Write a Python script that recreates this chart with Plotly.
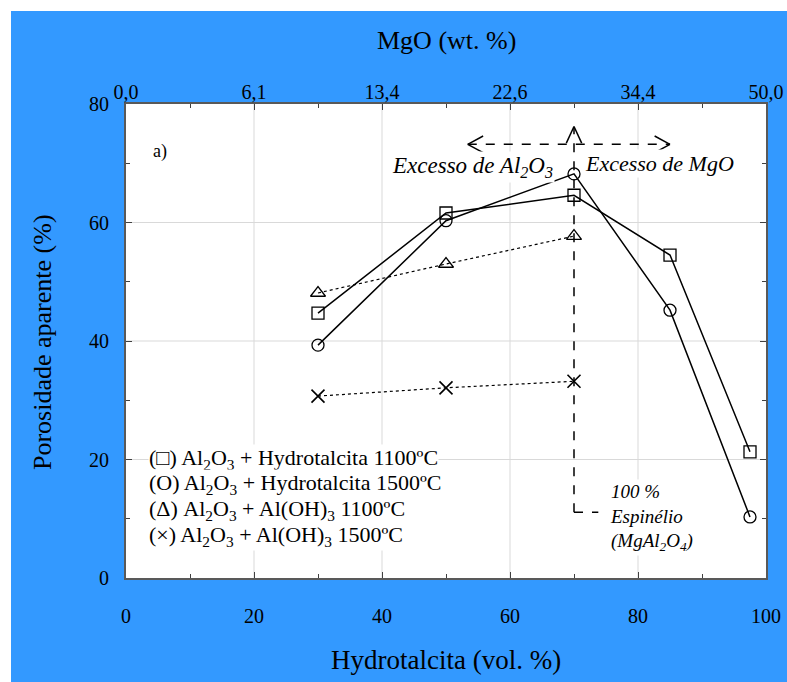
import plotly.graph_objects as go

# Data
x_hydro = [30, 50, 70, 85, 97.5]
por_ht_1100 = [44.7, 61.6, 64.6, 54.5, 21.3]
por_ht_1500 = [39.3, 60.3, 68.2, 45.2, 10.3]
x_aloh = [30, 50, 70]
por_aloh_1100 = [48.1, 53.0, 57.7]
por_aloh_1500 = [30.7, 32.1, 33.2]

x_ticks = [0, 20, 40, 60, 80, 100]
mgo_ticklabels = ["0,0", "6,1", "13,4", "22,6", "34,4", "50,0"]
y_ticks = [0, 20, 40, 60, 80]

FONT = "Liberation Serif, Times New Roman, serif"
BLUE = "#3399FF"

fig = go.Figure()

mk_line = dict(color="black", width=1.3)
fig.add_trace(go.Scatter(x=x_hydro, y=por_ht_1100, mode="lines+markers",
                         line=dict(color="black", width=1.5),
                         marker=dict(symbol="square-open", size=12, color="black", line=mk_line),
                         showlegend=False))
fig.add_trace(go.Scatter(x=x_hydro, y=por_ht_1500, mode="lines+markers",
                         line=dict(color="black", width=1.5),
                         marker=dict(symbol="circle-open", size=12, color="black", line=mk_line),
                         showlegend=False))
fig.add_trace(go.Scatter(x=x_aloh, y=por_aloh_1100, mode="lines+markers",
                         line=dict(color="black", width=1.2, dash="dot"),
                         marker=dict(symbol="triangle-up-open", size=13, color="black", line=mk_line),
                         showlegend=False))
fig.add_trace(go.Scatter(x=x_aloh, y=por_aloh_1500, mode="lines+markers",
                         line=dict(color="black", width=1.2, dash="dot"),
                         marker=dict(symbol="x-thin-open", size=13, color="black", line=dict(color="black", width=1.6)),
                         showlegend=False))
# invisible trace to activate top axis
fig.add_trace(go.Scatter(x=[0, 100], y=[0, 0], xaxis="x2", mode="markers",
                         marker=dict(opacity=0), showlegend=False, hoverinfo="skip"))

shapes = []
# white strips in the margins (top and left)
shapes.append(dict(type="rect", xref="paper", yref="paper", x0=-0.25, x1=1.2,
                   y0=(578 - 11) / 474, y1=1.3, fillcolor="white", line=dict(width=0), layer="below"))
shapes.append(dict(type="rect", xref="paper", yref="paper", x0=-0.25, x1=(11 - 126) / 640,
                   y0=-0.3, y1=1.3, fillcolor="white", line=dict(width=0), layer="below"))

# light grid lines at major ticks
for gx in [20, 40, 60, 80]:
    shapes.append(dict(type="line", x0=gx, x1=gx, y0=0, y1=80, line=dict(color="#d9d9d9", width=1), layer="below"))
for gy in [20, 40, 60]:
    shapes.append(dict(type="line", x0=0, x1=100, y0=gy, y1=gy, line=dict(color="#d9d9d9", width=1), layer="below"))

dash = dict(color="black", width=1.5, dash="dash")
solid = dict(color="black", width=1.5)
# vertical dashed line at stoichiometric spinel and horizontal arrows
shapes.append(dict(type="line", x0=70, x1=70, y0=11.1, y1=76.0, line=dash))
shapes.append(dict(type="line", x0=70, x1=73.8, y0=11.1, y1=11.1, line=dash))
shapes.append(dict(type="line", x0=53.4, x1=85.0, y0=73.2, y1=73.2, line=dash))
# chevron heads
shapes.append(dict(type="line", x0=53.4, x1=55.8, y0=73.2, y1=74.6, line=solid))
shapes.append(dict(type="line", x0=53.4, x1=55.8, y0=73.2, y1=71.8, line=solid))
shapes.append(dict(type="line", x0=85.0, x1=82.6, y0=73.2, y1=74.6, line=solid))
shapes.append(dict(type="line", x0=85.0, x1=82.6, y0=73.2, y1=71.8, line=solid))
shapes.append(dict(type="line", x0=70, x1=68.8, y0=76.2, y1=73.4, line=solid))
shapes.append(dict(type="line", x0=70, x1=71.2, y0=76.2, y1=73.4, line=solid))

annotations = []
# axis titles
annotations.append(dict(text="Hydrotalcita (vol. %)", xref="paper", yref="paper",
                        x=0.5, y=(578 - 660) / 474, xanchor="center", yanchor="middle", showarrow=False,
                        font=dict(family=FONT, size=27, color="black")))
annotations.append(dict(text="MgO (wt. %)", xref="paper", yref="paper",
                        x=0.5, y=(578 - 40) / 474, xanchor="center", yanchor="middle", showarrow=False,
                        font=dict(family=FONT, size=26, color="black")))
annotations.append(dict(text="Porosidade aparente (%)", xref="paper", yref="paper",
                        x=(42 - 126) / 640, y=(578 - 342) / 474, textangle=-90,
                        xanchor="center", yanchor="middle", showarrow=False,
                        font=dict(family=FONT, size=26, color="black")))
# panel label
annotations.append(dict(text="a)", x=5.3, y=71.9, showarrow=False,
                        font=dict(family=FONT, size=18, color="black")))
annotations.append(dict(text="<i>Excesso de Al<sub>2</sub>O<sub>3</sub></i>", x=54.2, y=69.3,
                        showarrow=False, bgcolor="white",
                        font=dict(family=FONT, size=23, color="black")))
annotations.append(dict(text="<i>Excesso de MgO</i>", x=83.4, y=69.9, showarrow=False,
                        bgcolor="white", font=dict(family=FONT, size=22, color="black")))
annotations.append(dict(text="<i>100 %<br>Espinélio<br>(MgAl<sub>2</sub>O<sub>4</sub>)</i>",
                        x=75.3, y=10.2, xanchor="left", align="left", showarrow=False,
                        bgcolor="white", font=dict(family=FONT, size=19, color="black")))
# legend text
legend_lines = [
    "(□) Al<sub>2</sub>O<sub>3</sub> + Hydrotalcita 1100ºC",
    "(O) Al<sub>2</sub>O<sub>3</sub> + Hydrotalcita 1500ºC",
    "(Δ) Al<sub>2</sub>O<sub>3</sub> + Al(OH)<sub>3</sub> 1100ºC",
    "(×) Al<sub>2</sub>O<sub>3</sub> + Al(OH)<sub>3</sub> 1500ºC",
]
legend_py = [459, 484, 510, 536]
for txt, py in zip(legend_lines, legend_py):
    annotations.append(dict(text=txt, x=3.5, y=(578 - py) / 5.925, xanchor="left",
                            showarrow=False, bgcolor="white", borderpad=0,
                            font=dict(family=FONT, size=22, color="black")))

tickfont = dict(family=FONT, size=20, color="black")
fig.update_layout(
    width=787, height=682,
    margin=dict(l=126, r=21, t=104, b=104, autoexpand=False),
    paper_bgcolor=BLUE, plot_bgcolor="white",
    font=dict(family=FONT, size=18, color="black"),
    shapes=shapes, annotations=annotations, showlegend=False,
    xaxis=dict(range=[0, 100], tickvals=x_ticks,
               ticks="inside", ticklen=6, tickcolor="#404040", tickwidth=1.2,
               minor=dict(dtick=10, ticks="inside", ticklen=4, tickcolor="#404040", tickwidth=1.2),
               showline=True, linecolor="#595959", linewidth=2, mirror="ticks",
               showgrid=False, zeroline=False, ticklabelstandoff=19, tickfont=tickfont),
    xaxis2=dict(range=[0, 100], overlaying="x", side="top", tickvals=x_ticks,
                ticktext=mgo_ticklabels, ticks="", showline=False, showgrid=False,
                zeroline=False, tickfont=tickfont),
    yaxis=dict(range=[0, 80], tickvals=y_ticks,
               ticks="inside", ticklen=6, tickcolor="#404040", tickwidth=1.2,
               minor=dict(dtick=10, ticks="inside", ticklen=4, tickcolor="#404040", tickwidth=1.2),
               showline=True, linecolor="#595959", linewidth=2, mirror="ticks",
               showgrid=False, zeroline=False, ticklabelstandoff=11, tickfont=tickfont),
)

fig.write_html("out.html", config={"displayModeBar": False},
               post_script="document.body.style.margin='0';document.body.style.overflow='hidden';")
